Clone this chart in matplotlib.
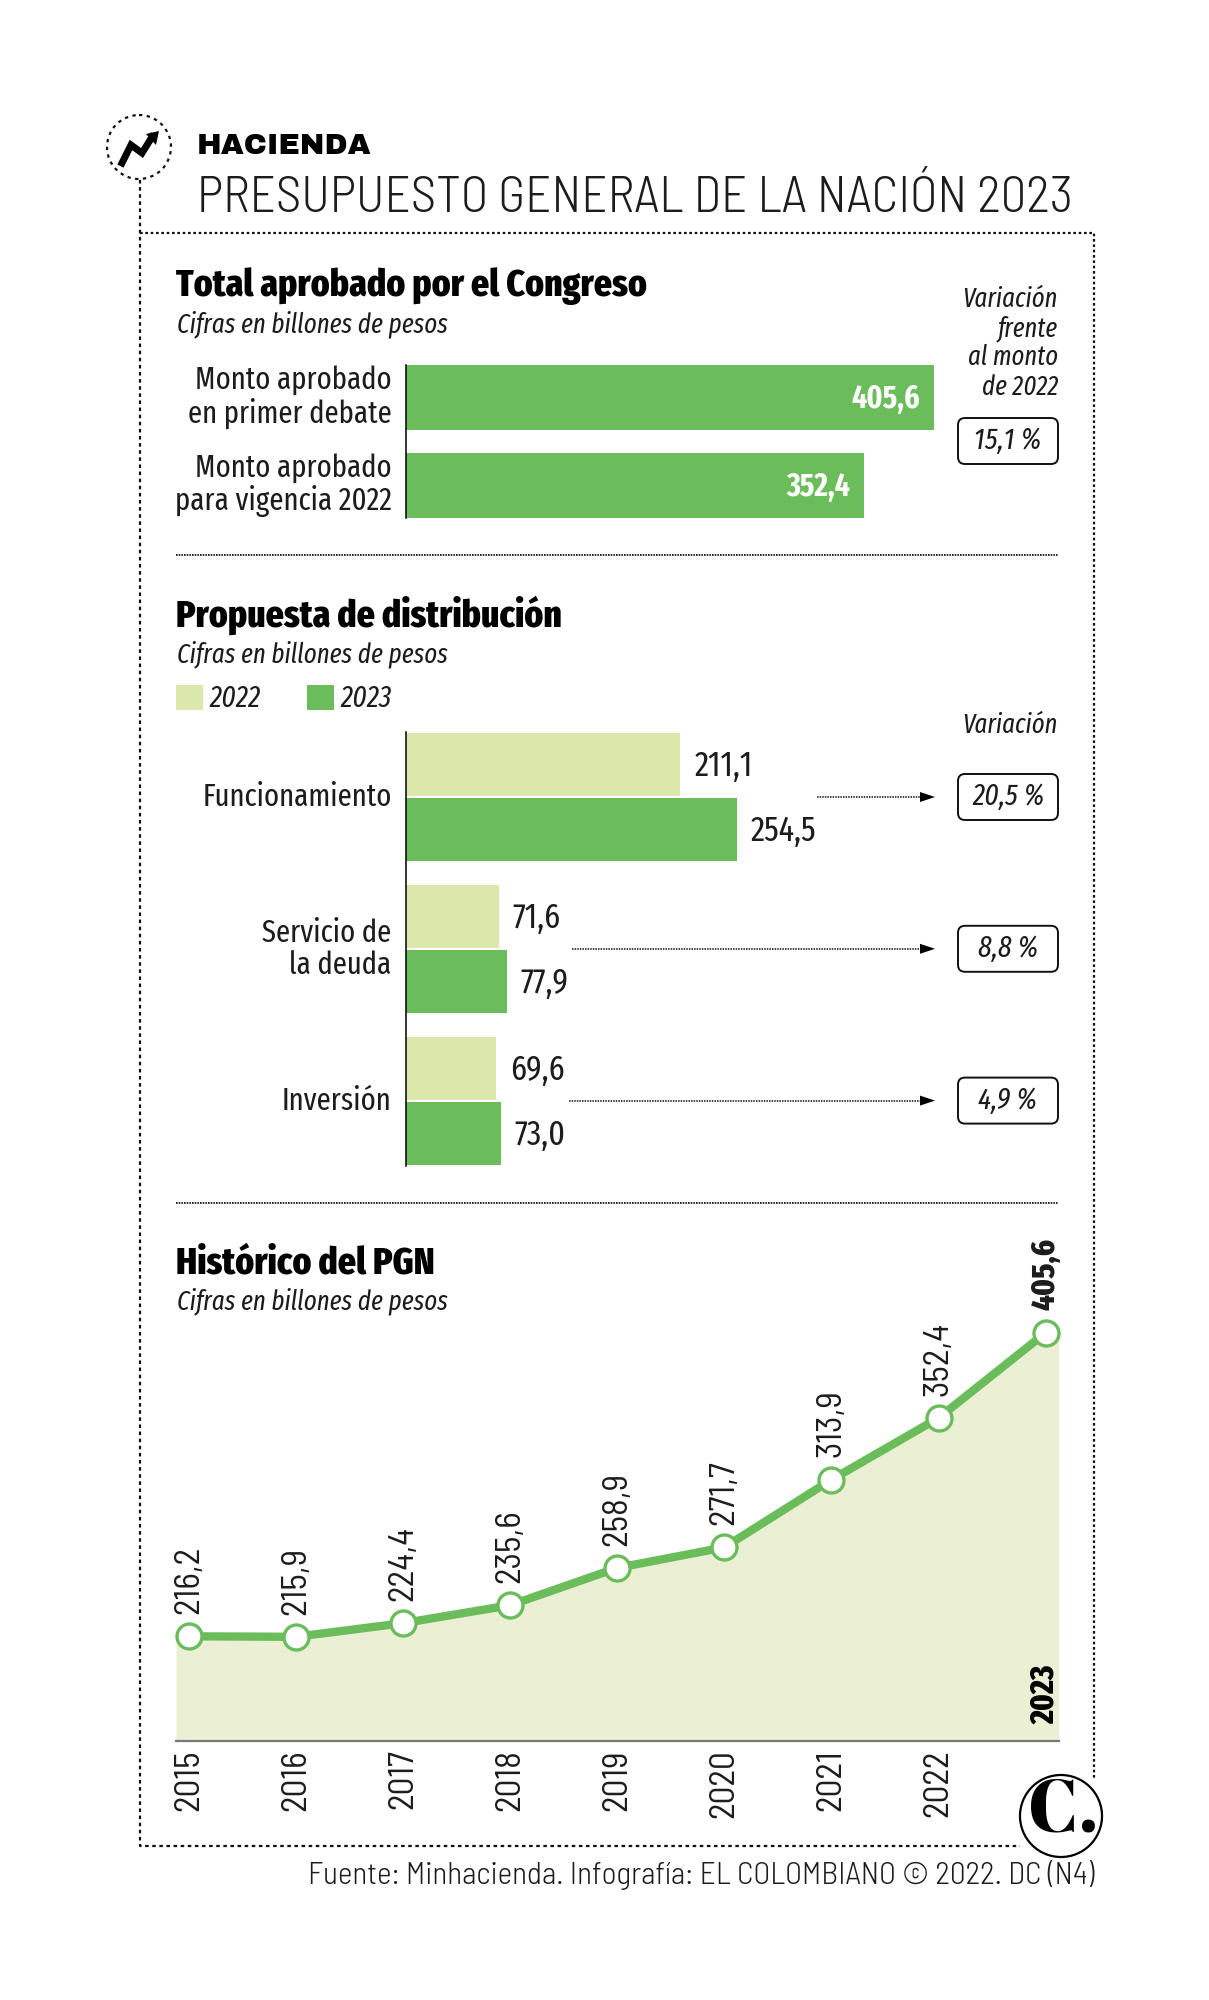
import matplotlib
matplotlib.use("Agg")
import matplotlib.pyplot as plt
from matplotlib.patches import FancyBboxPatch, Circle, Rectangle, Polygon

# fuentes: condensada para casi todo, semi condensada para titulo, eje y fuente
XCOND = ["Fira Sans Extra Condensed", "Liberation Sans"]
SEMI = ["Barlow Semi Condensed", "Liberation Sans"]
plt.rcParams["font.family"] = XCOND

# datos
total_labels = ["Monto aprobado\nen primer debate", "Monto aprobado\npara vigencia 2022"]
total_values = [405.6, 352.4]
total_variacion = "15,1 %"

dist_labels = ["Funcionamiento", "Servicio de\nla deuda", "Inversión"]
dist_2022 = [211.1, 71.6, 69.6]
dist_2023 = [254.5, 77.9, 73.0]
dist_variacion = ["20,5 %", "8,8 %", "4,9 %"]

years = [2015, 2016, 2017, 2018, 2019, 2020, 2021, 2022, 2023]
pgn = [216.2, 215.9, 224.4, 235.6, 258.9, 271.7, 313.9, 352.4, 405.6]

GREEN = "#6abd5a"
LIGHT = "#dbe7ab"
AREA = "#ebf0d4"
INK = "#1c1c1c"
W, H = 1209, 2000


def coma(v):
    return f"{v:.1f}".replace(".", ",")


def make_axes(left, top, right, bottom):
    a = fig.add_axes([left / W, 1 - bottom / H, (right - left) / W, (bottom - top) / H])
    a.patch.set_alpha(0)
    return a


fig = plt.figure(figsize=(W / 100, H / 100), dpi=100, facecolor="white")

# capa de fondo en pixeles, para marco y textos
bg = fig.add_axes([0, 0, 1, 1])
bg.set_xlim(0, W)
bg.set_ylim(H, 0)
bg.axis("off")

# marco punteado
bg.plot([140, 1094, 1094], [233, 233, 1778], color="#111111", lw=1.6, ls=(0, (1.2, 1.2)))
bg.plot([140, 140, 1020], [180, 1846, 1846], color="#111111", lw=1.6, ls=(0, (1.6, 1.6)))
for y in [555, 1203]:
    bg.plot([176, 1058], [y, y], color="#111111", lw=1.2, ls=(0, (1, 0.6)))

# icono
bg.add_patch(Circle((139, 147), 32, fc="white", ec="#111111", lw=1.6, ls=(0, (1.5, 2))))
bg.plot([122, 131, 142, 152], [163, 145, 153, 137], color="black", lw=5, solid_joinstyle="miter")
bg.add_patch(Polygon([[159, 131], [146, 134], [156, 145]], fc="black", ec="none"))

# titulos
bg.text(197, 147, "HACIENDA", fontsize=21.3, fontweight="bold", family=["Archivo Black", "Liberation Sans"], va="center")
bg.text(197, 199, "PRESUPUESTO GENERAL DE LA NACIÓN 2023", fontsize=36.6, fontweight=300, family=SEMI, va="center",
        color=INK)

for y, t in [(286, "Total aprobado por el Congreso"), (615, "Propuesta de distribución"), (1263, "Histórico del PGN")]:
    bg.text(176, y, t, fontsize=27.8, fontweight=800, va="center", color="black")
for y in [324, 654, 1301]:
    bg.text(177, y, "Cifras en billones de pesos", fontsize=19.5, style="italic", va="center", color=INK)

# variacion
bg.text(1058, 343, "Variación\nfrente\nal monto\nde 2022", fontsize=19.3, style="italic", ha="right", va="center",
        linespacing=1.12, color=INK)
bg.text(1058, 725, "Variación", fontsize=19.3, style="italic", ha="right", va="center", color=INK)


def caja(y, t):
    bg.add_patch(FancyBboxPatch((958, y - 23), 100, 46, boxstyle="round,pad=0,rounding_size=7", fc="white",
                                ec="#111111", lw=1.4))
    bg.text(1008, y, t, fontsize=21.5, style="italic", ha="center", va="center", color=INK)


caja(441, total_variacion)

# leyenda
bg.add_patch(Rectangle((176, 685), 27, 25, fc=LIGHT, ec="none"))
bg.add_patch(Rectangle((307, 685), 27, 25, fc=GREEN, ec="none"))
bg.text(209, 699, "2022", fontsize=21.5, style="italic", va="center", color=INK)
bg.text(340, 699, "2023", fontsize=21.5, style="italic", va="center", color=INK)

# fuente y logo
bg.text(1094, 1875, "Fuente: Minhacienda. Infografía: EL COLOMBIANO © 2022. DC (N4)", fontsize=22.5, fontweight=300,
        family=SEMI, ha="right", va="center", color=INK)
bg.add_patch(Circle((1061, 1816), 41, fc="white", ec="black", lw=1.6, zorder=5))
bg.text(1063, 1813, "C.", fontsize=53, fontweight="bold", family=["Abril Fatface", "Liberation Serif"], ha="center",
        va="center", color="black", zorder=6)

# panel 1
ax1 = make_axes(405.5, 365, 1058, 518)
ax1.barh(range(2), total_values, height=0.74, color=GREEN)
ax1.set_xlim(0, 501)
ax1.set_ylim(1.369, -0.369)
for i, (lab, v) in enumerate(zip(total_labels, total_values)):
    ax1.annotate(lab, (0, i), xytext=(-10, 0), textcoords="offset points", ha="right", va="center", fontsize=22.5,
                 linespacing=1.05, color=INK)
    ax1.annotate(coma(v), (v, i), xytext=(-10, -1), textcoords="offset points", ha="right", va="center",
                 fontsize=23, fontweight=700, color="white")

# panel 2
ax2 = make_axes(405.5, 732, 1058, 1166)
pos = list(range(3))
ax2.barh([p - 0.214 for p in pos], dist_2022, height=0.42, color=LIGHT)
ax2.barh([p + 0.214 for p in pos], dist_2023, height=0.42, color=GREEN)
ax2.set_xlim(0, 501)
ax2.set_ylim(2.428, -0.428)
arrow_start = [817, 572, 569]
for p, lab, a, b, t, x0 in zip(pos, dist_labels, dist_2022, dist_2023, dist_variacion, arrow_start):
    ax2.annotate(lab, (0, p), xytext=(-10, 0), textcoords="offset points", ha="right", va="center", fontsize=22.5,
                 linespacing=1.05, color=INK)
    ax2.annotate(coma(a), (a, p - 0.214), xytext=(10, -1), textcoords="offset points", va="center", fontsize=25,
                 color=INK)
    ax2.annotate(coma(b), (b, p + 0.214), xytext=(10, -1), textcoords="offset points", va="center", fontsize=25,
                 color=INK)
    # flecha hasta la caja de variacion
    y = 797 + p * 151.8
    bg.plot([x0, 925], [y, y], color="#111111", lw=1.1, ls=(0, (1, 0.7)))
    bg.add_patch(Polygon([[935, y], [920, y - 5], [920, y + 5]], fc="black", ec="none"))
    caja(y, t)

# panel 3
ax3 = make_axes(176, 1250, 1058.5, 1741)
ax3.set_xlim(2014.88, 2023.12)
ax3.set_ylim(150.9, 457.2)
ax3.fill_between([2014.88] + years + [2023.12], [pgn[0]] + pgn + [pgn[-1]], color=AREA, lw=0)
ax3.plot(years, pgn, color=GREEN, lw=6, marker="o", ms=18, mfc="white", mec=GREEN, mew=2.4, clip_on=False)
for yr, v in zip(years, pgn):
    last = yr == years[-1]
    ax3.annotate(coma(v), (yr, v), xytext=(0, 16), textcoords="offset points", rotation=90, ha="center", va="bottom",
                 fontsize=23.7 if last else 25.5, family=XCOND if last else SEMI,
                 fontweight=800 if last else "normal", color=INK, annotation_clip=False)
ax3.set_xticks(years[:-1])
ax3.set_xticklabels([str(y) for y in years[:-1]], rotation=90, fontsize=25.5, family=SEMI, color=INK)
ax3.tick_params(axis="x", length=0, pad=6)
ax3.set_yticks([])
ax3.text(2023.0, 161.5, "2023", rotation=90, fontsize=23.5, fontweight=800, ha="center", va="bottom", color="black")

for a in (ax1, ax2, ax3):
    a.spines[["top", "right"]].set_visible(False)
    a.set_yticks([])
for a in (ax1, ax2):
    a.spines["bottom"].set_visible(False)
    a.set_xticks([])
    a.spines["left"].set_linewidth(1.1)
ax3.spines["left"].set_visible(False)
ax3.spines["bottom"].set_color("#777777")
ax3.spines["bottom"].set_linewidth(1.6)

fig.savefig("out.png", dpi=100)
